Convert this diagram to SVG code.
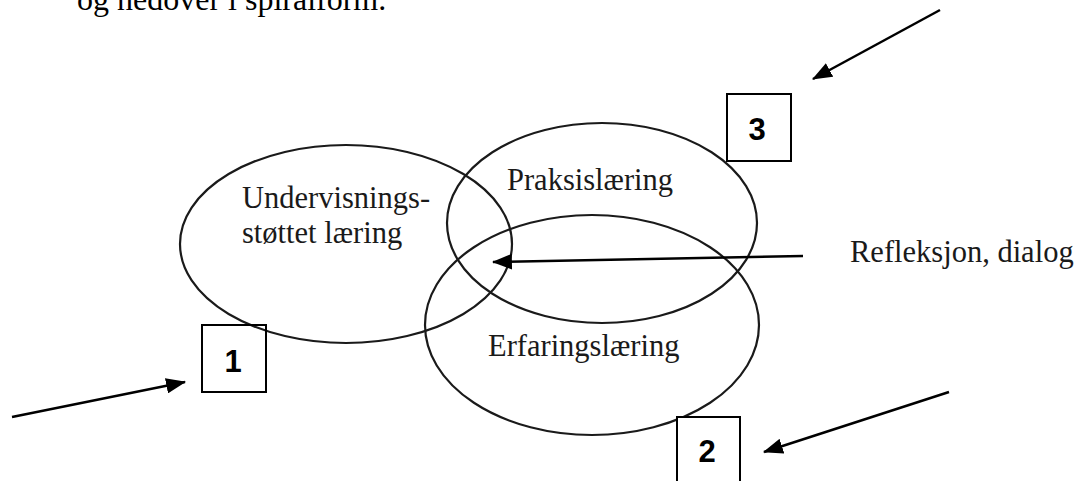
<svg xmlns="http://www.w3.org/2000/svg" width="1078" height="481" viewBox="0 0 1078 481">
  <style>
    .bg { fill: #ffffff; }
    .ring { fill: none; stroke: #1a1a1a; stroke-width: 2.2; }
    .label { font-family: "Liberation Serif", "Times New Roman", serif; font-size: 30.5px; fill: #1a1a1a; }
    .body { font-family: "Liberation Serif", "Times New Roman", serif; font-size: 32px; fill: #000000; }
    .box { fill: none; stroke: #000000; stroke-width: 2; }
    .num { font-family: "Liberation Sans", Arial, sans-serif; font-size: 31px; font-weight: bold; fill: #000000; text-anchor: middle; }
    .arrow { fill: none; stroke: #000000; stroke-width: 2.5; marker-end: url(#head); }
  </style>
  <defs>
    <marker id="head" markerUnits="userSpaceOnUse" markerWidth="20" markerHeight="16" viewBox="0 0 18 14" refX="17" refY="7" orient="auto">
      <path d="M0,0 L18,7 L0,14 z" fill="#000000"/>
    </marker>
  </defs>

  <rect class="bg" x="0" y="0" width="1078" height="481"/>

  <!-- trailing line of the paragraph above the figure -->
  <text class="body" x="77" y="10">og nedover i spiralform.</text>

  <!-- three overlapping learning areas -->
  <g id="undervisning">
    <ellipse class="ring" cx="346" cy="244" rx="166" ry="99"/>
    <text class="label" x="242" y="208">Undervisnings-</text>
    <text class="label" x="242" y="243">støttet læring</text>
  </g>
  <g id="praksis">
    <ellipse class="ring" cx="602" cy="223" rx="155" ry="100"/>
    <text class="label" x="507" y="190">Praksislæring</text>
  </g>
  <g id="erfaring">
    <ellipse class="ring" cx="592" cy="325" rx="167" ry="110"/>
    <text class="label" x="488" y="356">Erfaringslæring</text>
  </g>

  <g id="refleksjon">
    <text class="label" x="850" y="262">Refleksjon, dialog</text>
  </g>

  <!-- numbered markers -->
  <g id="box1">
    <rect class="box" x="202" y="325" width="64" height="67"/>
    <text class="num" x="233" y="372">1</text>
  </g>
  <g id="box2">
    <rect class="box" x="677" y="417" width="63" height="80" fill="#ffffff" style="fill:#ffffff"/>
    <text class="num" x="707" y="462">2</text>
  </g>
  <g id="box3">
    <rect class="box" x="727" y="94" width="64" height="67"/>
    <text class="num" x="757" y="140">3</text>
  </g>

  <!-- connectors -->
  <g id="connectors">
    <line class="arrow" x1="803" y1="256" x2="493" y2="262"/>
    <line class="arrow" x1="12" y1="417" x2="185" y2="382"/>
    <line class="arrow" x1="949" y1="392" x2="764" y2="452"/>
    <line class="arrow" x1="940" y1="10" x2="813" y2="79"/>
  </g>
</svg>
